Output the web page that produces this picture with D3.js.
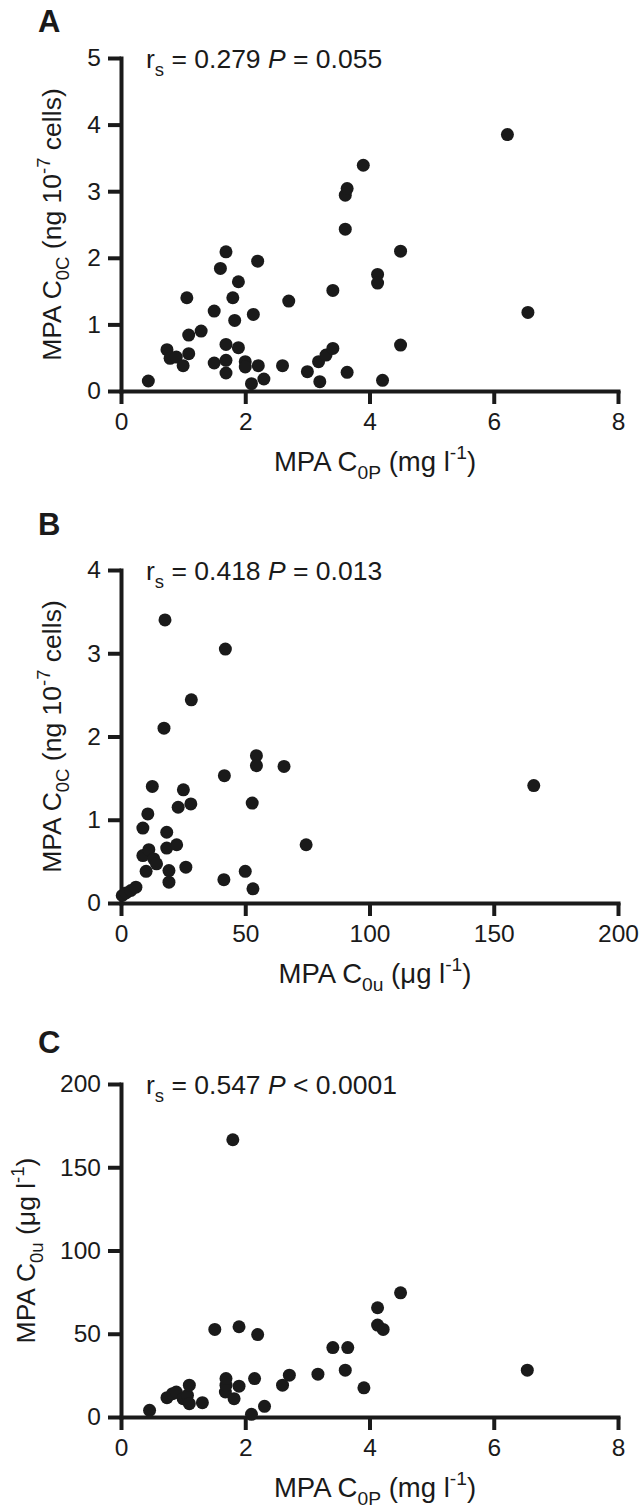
<!DOCTYPE html>
<html><head><meta charset="utf-8">
<script src="https://cdn.jsdelivr.net/npm/d3@7"></script>
<style>
body{margin:0;background:#fff}
text{font-family:"Liberation Sans",Arial,Helvetica,sans-serif;fill:#1a1a1a;white-space:pre}
</style>
</head><body><svg id="chart" width="642" height="1509"></svg>
<script>
// ---------- Data ----------
// Panel A: MPA C0P (mg/l) vs MPA C0C (ng/10^7 cells)
const aX = [0.44,0.74,0.79,0.89,1.00,1.06,1.09,1.09,1.29,1.50,1.50,1.60,1.69,1.69,1.69,1.69,1.80,1.83,1.89,1.89,2.00,2.00,2.10,2.13,2.20,2.21,2.30,2.60,2.70,3.00,3.18,3.20,3.30,3.41,3.41,3.61,3.64,3.61,3.64,3.90,4.13,4.13,4.50,4.50,4.21,6.22,6.55];
const aY = [0.15,0.62,0.49,0.51,0.38,1.40,0.84,0.56,0.90,1.20,0.42,1.84,2.09,0.70,0.46,0.27,1.40,1.06,1.64,0.65,0.44,0.36,0.11,1.15,1.95,0.38,0.18,0.38,1.35,0.29,0.44,0.14,0.54,0.64,1.51,2.94,3.04,2.43,0.28,3.39,1.75,1.62,2.10,0.69,0.16,3.85,1.18];
// Panel B: MPA C0u (ug/l) vs MPA C0C
const bX = [0.5,2,4,6,8.8,8.8,10.1,10.8,11.2,12.6,13.2,14.3,17.7,17.3,18.4,18.4,19.3,19.3,22.4,23.0,25.1,26.1,28.1,28.3,41.4,41.6,42.0,50.0,52.8,53.1,54.5,54.5,65.6,74.5,166.1];
const bY = [0.09,0.12,0.15,0.19,0.90,0.57,0.38,1.07,0.64,1.40,0.53,0.47,3.40,2.10,0.85,0.66,0.39,0.25,0.70,1.15,1.36,0.43,1.19,2.44,0.28,1.53,3.05,0.38,1.20,0.17,1.77,1.65,1.64,0.70,1.41];
// Panel C: MPA C0P (mg/l) vs MPA C0u (ug/l)
const cX = [0.46,0.74,0.83,0.89,1.00,1.07,1.10,1.10,1.31,1.51,1.68,1.69,1.69,1.80,1.82,1.90,1.90,2.10,2.15,2.20,2.31,2.60,2.71,3.17,3.41,3.61,3.65,3.91,4.13,4.13,4.22,4.50,6.54];
const cY = [4.0,11.6,14.0,15.0,11.0,13.0,19.1,8.0,8.6,52.6,15.0,19.1,23.1,166.5,11.0,54.2,18.5,1.6,23.1,49.5,6.4,19.1,25.1,25.7,41.7,28.1,41.7,17.5,65.6,55.2,52.6,74.6,28.1];

const ticksC0P = [0,2,4,6,8];
const ticksC0C_A = [0,1,2,3,4,5];
const ticksC0C_B = [0,1,2,3,4];
const ticksC0u = [0,50,100,150,200];

const labelC0P = [["MPA C",""],["0P","sub"],[" (mg l",""],["-1","sup"],[")",""]];
const labelC0C = [["MPA C",""],["0C","sub"],[" (ng 10",""],["-7","sup"],[" cells)",""]];
const labelC0u = [["MPA C",""],["0u","sub"],[" (\u03bcg l",""],["-1","sup"],[")",""]];
const statA = [["r",""],["s","sub"],[" = 0.279 ",""],["P","it"],[" = 0.055",""]];
const statB = [["r",""],["s","sub"],[" = 0.418 ",""],["P","it"],[" = 0.013",""]];
const statC = [["r",""],["s","sub"],[" = 0.547 ",""],["P","it"],[" < 0.0001",""]];

// ---------- Drawing ----------
const svg = d3.select('#chart');
const INK = '#1a1a1a';
const X0 = 121, X1 = 618, PH = 333;

function rich(textSel, segs, size){
  let cur = 0;
  segs.forEach(([t,k])=>{
    const target = k==='sub' ? 0.3*size : (k==='sup' ? -0.42*size : 0);
    const ts = textSel.append('tspan')
      .attr('dy', (target-cur).toFixed(2))
      .attr('font-size', (k==='sub'||k==='sup') ? size*0.7 : size)
      .text(t);
    if(k==='it') ts.attr('font-style','italic');
    cur = target;
  });
}

const panels = [
  {letter:'A', top:58, letterY:32, ylx:61, xd:[0,8], xt:ticksC0P, yd:[0,5], yt:ticksC0C_A, xs:aX, ys:aY, stat:statA, xl:labelC0P, yl:labelC0C},
  {letter:'B', top:570, letterY:535, ylx:61, xd:[0,200], xt:ticksC0u, yd:[0,4], yt:ticksC0C_B, xs:bX, ys:bY, stat:statB, xl:labelC0u, yl:labelC0C},
  {letter:'C', top:1084, letterY:1053, ylx:35, xd:[0,8], xt:ticksC0P, yd:[0,200], yt:ticksC0u, xs:cX, ys:cY, stat:statC, xl:labelC0P, yl:labelC0u}
];

const fmt = d3.format('d');

panels.forEach(p=>{
  const y0 = p.top + PH;
  const x = d3.scaleLinear().domain(p.xd).range([X0, X1]);
  const y = d3.scaleLinear().domain(p.yd).range([y0, p.top]);
  const g = svg.append('g');

  // panel letter
  g.append('text').attr('x', 38).attr('y', p.letterY)
    .attr('font-size', 31).attr('font-weight', 'bold').text(p.letter);

  // axes
  const xa = g.append('g').attr('transform', `translate(0,${y0})`)
    .call(d3.axisBottom(x).tickValues(p.xt).tickFormat(fmt).tickSize(13).tickSizeOuter(0).tickPadding(9));
  const ya = g.append('g').attr('transform', `translate(${X0},0)`)
    .call(d3.axisLeft(y).tickValues(p.yt).tickFormat(fmt).tickSize(13).tickSizeOuter(0).tickPadding(7));
  [xa, ya].forEach(a=>{
    a.select('.domain').attr('stroke', INK).attr('stroke-width', 4).attr('stroke-linecap','square');
    a.selectAll('.tick line').attr('stroke', INK).attr('stroke-width', 4);
    a.selectAll('.tick text').attr('fill', INK).attr('font-size', 24.5)
      .attr('font-family', '"Liberation Sans",Arial,Helvetica,sans-serif');
  });

  // points
  g.append('g').selectAll('circle').data(p.xs.map((v,i)=>[v, p.ys[i]])).join('circle')
    .attr('cx', d=>x(d[0])).attr('cy', d=>y(d[1])).attr('r', 6.5).attr('fill', INK);

  // statistics
  const st = g.append('text').attr('x', 146).attr('y', p.top + 10);
  rich(st, p.stat, 26.5);

  // x label
  const xlab = g.append('text').attr('x', 375).attr('y', y0 + 80).attr('text-anchor','middle');
  rich(xlab, p.xl, 27.5);

  // y label
  const ylab = g.append('text').attr('text-anchor','middle')
    .attr('transform', `translate(${p.ylx},${p.top + PH/2}) rotate(-90)`);
  rich(ylab, p.yl, 26.5);
});
</script>
</body></html>
